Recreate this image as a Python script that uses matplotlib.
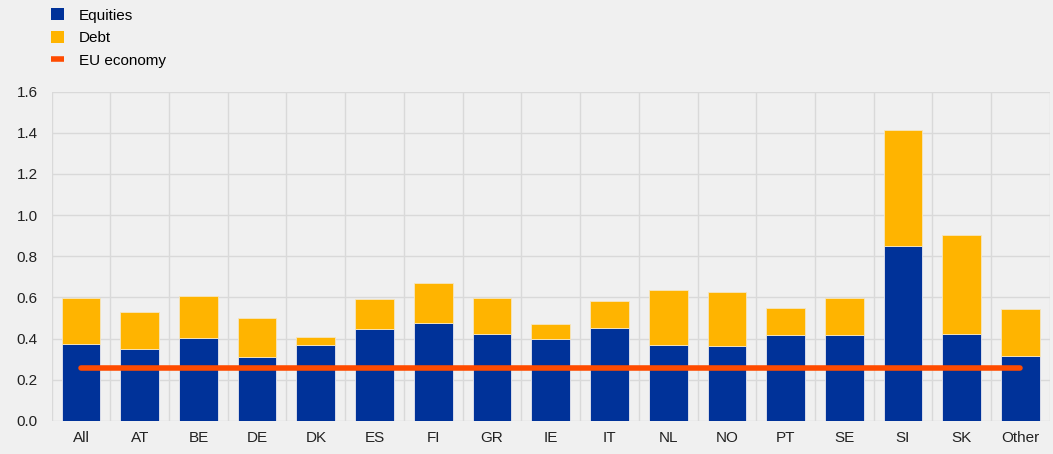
import matplotlib.pyplot as plt
from matplotlib.lines import Line2D
from matplotlib.patches import Patch
import numpy as np

countries = ['All', 'AT', 'BE', 'DE', 'DK', 'ES', 'FI', 'GR', 'IE', 'IT',
             'NL', 'NO', 'PT', 'SE', 'SI', 'SK', 'Other']
equities = [0.372, 0.347, 0.401, 0.308, 0.370, 0.448, 0.478, 0.423, 0.396, 0.451,
            0.370, 0.365, 0.418, 0.418, 0.851, 0.423, 0.315]
total = [0.597, 0.530, 0.608, 0.501, 0.407, 0.590, 0.671, 0.597, 0.469, 0.582,
         0.636, 0.624, 0.548, 0.595, 1.415, 0.902, 0.543]
debt = [t - e for t, e in zip(total, equities)]
eu_economy = 0.255

bg = '#f0f0f0'
blue = '#003299'
yellow = '#ffb400'
orange = '#ff4b00'

plt.rcParams['font.family'] = ['Liberation Sans', 'DejaVu Sans']

fig = plt.figure(figsize=(10.53, 4.54), dpi=100, facecolor=bg)
ax = fig.add_axes([0.049, 0.073, 0.948, 0.725], facecolor=bg)

x = np.arange(len(countries))
ax.bar(x, equities, width=0.66, color=blue, edgecolor='#e8e8f0', linewidth=0.6, zorder=3)
ax.bar(x, debt, width=0.66, bottom=equities, color=yellow, edgecolor='#f5e6c0',
       linewidth=0.6, zorder=3)
ax.plot([x[0], x[-1]], [eu_economy, eu_economy], color=orange, linewidth=4,
        solid_capstyle='round', zorder=4)

ax.set_xlim(-0.5, len(countries) - 0.5)
ax.set_ylim(0, 1.6)
ax.set_yticks(np.arange(0, 1.61, 0.2))
ax.set_yticklabels([f'{v:.1f}' for v in np.arange(0, 1.61, 0.2)])
ax.set_xticks(x)
ax.set_xticklabels(countries)
ax.set_xticks(np.arange(-0.5, len(countries), 1), minor=True)
ax.grid(axis='y', which='major', color='#d9d9d9', linewidth=1, zorder=0)
ax.grid(axis='x', which='minor', color='#d9d9d9', linewidth=1, zorder=0)
ax.tick_params(axis='both', which='both', length=0, labelsize=11, colors='#222222')
ax.tick_params(axis='x', pad=7)
ax.tick_params(axis='y', pad=10)
for s in ax.spines.values():
    s.set_visible(False)

handles = [Patch(facecolor=blue), Patch(facecolor=yellow),
           Line2D([], [], color=orange, linewidth=4, solid_capstyle='butt')]
labels = ['Equities', 'Debt', 'EU economy']
fig.legend(handles, labels, loc='upper left', bbox_to_anchor=(0.0484, 0.982),
           frameon=False, borderpad=0, borderaxespad=0,
           fontsize=11, handlelength=0.85, handleheight=0.85,
           handletextpad=1.0, labelspacing=0.55)

fig.savefig('out.png', dpi=100, facecolor=bg)
